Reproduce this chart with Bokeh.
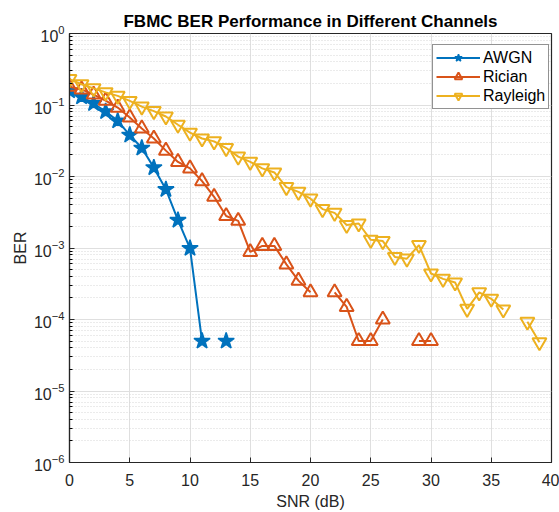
import numpy as np
from bokeh.plotting import figure
from bokeh.models import (FixedTicker, LogTickFormatter, Legend, LegendItem, Range1d)
from bokeh.embed import file_html
from bokeh.resources import INLINE

nan = float("nan")

# ---- data ----
snr = list(range(0, 41))
awgn = [0.158, 0.13, 0.105, 0.081, 0.06, 0.038, 0.025, 0.0133, 0.0066, 0.00245,
        0.00099, 5e-5, nan, 5e-5]
rician = [0.18, 0.165, 0.14, 0.115, 0.092, 0.067, 0.047, 0.034, 0.023, 0.016,
          0.013, 0.0086, 0.0052, 0.0028, 0.0024, 0.00088, 0.00107, 0.00107, 0.00059, 0.00035,
          0.00024, nan, 0.00024, 0.00015, 5e-5, 5e-5, 1e-4, nan, nan, 5e-5,
          5e-5]
rayleigh = [0.23, 0.195, 0.171, 0.15, 0.134, 0.114, 0.095, 0.082, 0.069, 0.053,
            0.041, 0.034, 0.031, 0.025, 0.019, 0.016, 0.013, 0.0114, 0.0071, 0.0061,
            0.0049, 0.0035, 0.0031, 0.0021, 0.0022, 0.0013, 0.00125, 0.00075, 0.00071, 0.0011,
            0.00044, 0.00037, 0.00033, 0.000141, 0.00024, 0.000195, 0.000138, nan, 9.3e-5, 4.8e-5]

x_ticks = [0, 5, 10, 15, 20, 25, 30, 35, 40]
y_exps = [-6, -5, -4, -3, -2, -1, 0]
y_minor_mant = [2, 3, 4, 5, 6, 7, 8, 9]

BLUE = "#0072BD"
ORANGE = "#D95319"
YELLOW = "#EDB120"
AX = "#262626"
FONT = "Liberation Sans"

y_major = [10.0 ** e for e in y_exps]
y_minor = [m * 10.0 ** e for e in y_exps[:-1] for m in y_minor_mant]

p = figure(width=559, height=512, y_axis_type="log", output_backend="svg",
           toolbar_location=None, x_range=Range1d(0, 40), y_range=Range1d(1e-6, 1),
           min_border_left=69, min_border_right=8, min_border_top=33, min_border_bottom=50)

p.title.text = "FBMC BER Performance in Different Channels"
p.title.text_font = FONT
p.title.text_font_size = "17px"
p.title.text_font_style = "bold"
p.title.align = "center"
p.title.text_color = "#000000"
p.title.standoff = 5

p.outline_line_color = AX
p.outline_line_width = 1.2

yticker = FixedTicker(ticks=y_major, minor_ticks=y_minor)
xticker = FixedTicker(ticks=x_ticks)

for ax in p.yaxis:
    ax.ticker = yticker
    ax.formatter = LogTickFormatter()
    ax.axis_label = "BER"
    ax.major_label_standoff = 5
    ax.axis_label_standoff = 2
for ax in p.xaxis:
    ax.ticker = xticker
    ax.axis_label = "SNR (dB)"
    ax.major_label_standoff = 11
    ax.axis_label_standoff = 4
    ax.minor_tick_line_color = None

for ax in list(p.xaxis) + list(p.yaxis):
    ax.major_label_text_font = FONT
    ax.major_label_text_font_size = "16px"
    ax.major_label_text_color = AX
    ax.axis_label_text_font = FONT
    ax.axis_label_text_font_size = "16px"
    ax.axis_label_text_font_style = "normal"
    ax.axis_label_text_color = AX
    ax.axis_line_color = AX
    ax.axis_line_width = 1.2
    ax.major_tick_line_color = AX
    ax.major_tick_in = 5
    ax.major_tick_out = 0
    ax.minor_tick_in = 3
    ax.minor_tick_out = 0

p.xgrid.grid_line_color = "#dfdfdf"
p.xgrid.ticker = xticker
p.ygrid.ticker = yticker
p.ygrid.grid_line_color = "#dfdfdf"
p.ygrid.minor_grid_line_color = "#d6d6d6"
p.ygrid.minor_grid_line_dash = "1 2"

items = []
x_a = snr[:len(awgn)]
l1 = p.line(x_a, awgn, line_color=BLUE, line_width=2)
s1 = p.scatter(x_a, awgn, marker="star", size=17, fill_color=BLUE, line_color=BLUE, line_width=1.5)
items.append(LegendItem(label="AWGN", renderers=[l1, s1]))

x_r = snr[:len(rician)]
l2 = p.line(x_r, rician, line_color=ORANGE, line_width=2)
s2 = p.scatter(x_r, rician, marker="triangle", size=14, fill_color=None, line_color=ORANGE, line_width=2)
items.append(LegendItem(label="Rician", renderers=[l2, s2]))

x_y = snr[:len(rayleigh)]
l3 = p.line(x_y, rayleigh, line_color=YELLOW, line_width=2)
s3 = p.scatter(x_y, rayleigh, marker="inverted_triangle", size=14, fill_color=None, line_color=YELLOW, line_width=2)
items.append(LegendItem(label="Rayleigh", renderers=[l3, s3]))

legend = Legend(items=items, location=(363, 353))
legend.margin = 0
legend.padding = 3
legend.spacing = 0
legend.glyph_width = 44
legend.glyph_height = 19
legend.label_height = 19
legend.label_standoff = 3
legend.label_text_font = FONT
legend.label_text_font_size = "16px"
legend.label_text_color = "#000000"
legend.border_line_color = AX
legend.border_line_width = 1
legend.background_fill_color = "white"
legend.background_fill_alpha = 1
p.add_layout(legend)

open("out.html", "w").write(file_html(p, INLINE))
